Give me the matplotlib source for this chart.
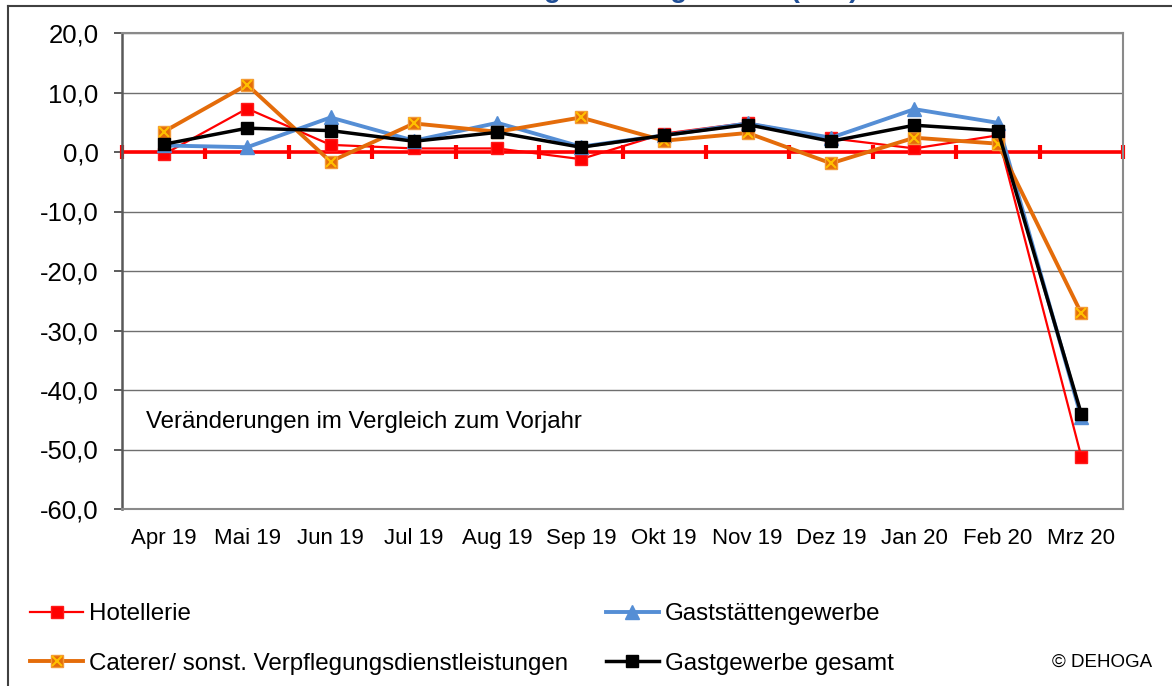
import matplotlib.pyplot as plt
from matplotlib.lines import Line2D

plt.rcParams['font.family'] = ['Liberation Sans', 'DejaVu Sans']

# months shown on the x axis
months = ['Apr 19', 'Mai 19', 'Jun 19', 'Jul 19', 'Aug 19', 'Sep 19',
          'Okt 19', 'Nov 19', 'Dez 19', 'Jan 20', 'Feb 20', 'Mrz 20']

# change against previous year in percent
hotellerie = [-0.4, 7.3, 1.2, 0.6, 0.6, -1.2, 3.1, 4.9, 2.3, 0.6, 2.8, -51.2]
gaststaetten = [1.1, 0.8, 5.8, 1.9, 4.9, 0.9, 2.8, 4.8, 2.4, 7.2, 4.9, -44.6]
caterer = [3.4, 11.3, -1.6, 4.8, 3.4, 5.8, 1.9, 3.2, -1.9, 2.4, 1.4, -27.1]
gesamt = [1.3, 4.0, 3.6, 1.8, 3.3, 0.8, 2.8, 4.6, 1.8, 4.5, 3.6, -44.0]

yticks = [20, 10, 0, -10, -20, -30, -40, -50, -60]

fig = plt.figure(figsize=(11.72, 6.86), dpi=100)
ax = fig.add_axes([122 / 1172, 1 - 509 / 686, 1001 / 1172, 476 / 686])

x = list(range(len(months)))

# red zero axis with category boundary marks
ax.axhline(0, color='#ff0000', lw=2.6, zorder=2)
bounds = [i - 0.5 for i in range(len(months) + 1)]
ax.plot(bounds, [0] * len(bounds), ls='none', marker='|', ms=10, mew=3,
        color='#ff0000', zorder=2, clip_on=False)

# the four series
l_hot, = ax.plot(x, hotellerie, color='#ff0000', lw=1.6, marker='s', ms=9,
                 mec='#ff1a1a', label='Hotellerie', zorder=3)
l_gst, = ax.plot(x, gaststaetten, color='#558ed5', lw=2.8, marker='^', ms=10,
                 label='Gaststättengewerbe', zorder=4)
l_cat, = ax.plot(x, caterer, color='#e46c0a', lw=2.8, marker='s', ms=9,
                 mec='#f39a3a', zorder=5)
l_catx, = ax.plot(x, caterer, ls='none', marker='x', ms=7, mew=1.5,
                  color='#ffc000', zorder=5)
l_ges, = ax.plot(x, gesamt, color='#000000', lw=2.5, marker='s', ms=9,
                 label='Gastgewerbe gesamt', zorder=6)

# axes, grid and ticks
ax.set_xlim(-0.5, len(months) - 0.5)
ax.set_ylim(-60, 20)
ax.set_yticks(yticks)
ax.set_yticklabels([('%.1f' % v).replace('.', ',') for v in yticks], fontsize=18.5)
ax.set_xticks(x)
ax.set_xticklabels(months, fontsize=16)
ax.tick_params(axis='x', length=0, pad=14)
ax.tick_params(axis='y', length=6, width=1.2, color='#404040', pad=11)
ax.grid(axis='y', color='#6f6f6f', lw=1)
ax.set_axisbelow(True)
for side in ['top', 'right', 'bottom']:
    ax.spines[side].set_color('#8a8a8a')
    ax.spines[side].set_linewidth(1.5)
ax.spines['left'].set_color('#595959')
ax.spines['left'].set_linewidth(1.8)

ax.text(24 / 1001, (509 - 422) / 476, 'Veränderungen im Vergleich zum Vorjahr',
        transform=ax.transAxes, fontsize=17.3, va='center')

# legend below the chart
handles = [l_hot, (l_cat, l_catx), l_gst, l_ges]
labels = ['Hotellerie', 'Caterer/ sonst. Verpflegungsdienstleistungen',
          'Gaststättengewerbe', 'Gastgewerbe gesamt']
fig.legend(handles, labels, ncol=2, frameon=False, fontsize=17.4,
           loc='upper left', bbox_to_anchor=(30 / 1172, 1 - 603 / 686),
           borderaxespad=0, borderpad=0, handlelength=2.2, handletextpad=0.25,
           columnspacing=1.55, labelspacing=1.15)

fig.text(1152 / 1172, 1 - 662 / 686, '© DEHOGA', fontsize=13.5,
         ha='right', va='center')

# title sits above the top edge, only its descenders show
fig.text(858 / 1172, 1 + 3 / 686, 'Umsatzentwicklung im Gastgewerbe (real)',
         fontsize=20, fontweight='bold', color='#1f4e96', ha='right', va='baseline')
fig.add_artist(Line2D([8 / 1172, 8 / 1172], [0, 1 - 6 / 686], color='#404040', lw=1.5))
fig.add_artist(Line2D([8 / 1172, 1], [1 - 6 / 686, 1 - 6 / 686], color='#404040', lw=1.5))

fig.savefig('out.png', dpi=100)
